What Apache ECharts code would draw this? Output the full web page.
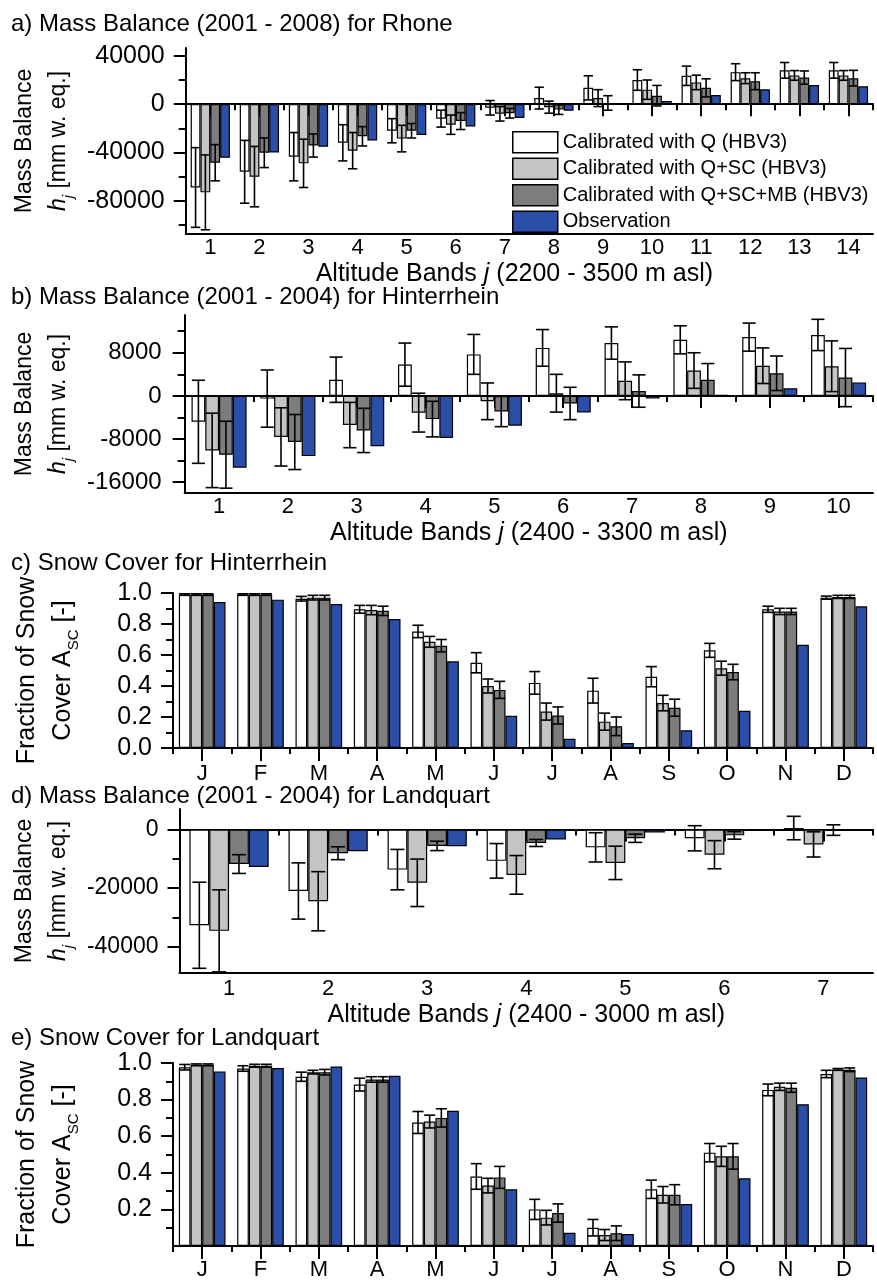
<!DOCTYPE html>
<html><head><meta charset="utf-8">
<script src="https://cdn.jsdelivr.net/npm/echarts@6/dist/echarts.min.js"></script>
<style>html,body{margin:0;padding:0;background:#fff}#c{width:877px;height:1281px}</style>
</head><body><div id="c"></div>
<script>
// ---------- DATA ----------
const seriesNames = ['Calibrated with Q (HBV3)', 'Calibrated with Q+SC (HBV3)', 'Calibrated with Q+SC+MB (HBV3)', 'Observation'];
const months = ['J','F','M','A','M','J','J','A','S','O','N','D'];

// a) Rhone mass balance
const rhoneBands = ['1','2','3','4','5','6','7','8','9','10','11','12','13','14'];
const rhoneQ        = [-69000,-56000,-43500,-32000,-22000,-12000,-3000,5000,13500,20000,23500,26500,28000,28000];
const rhoneQErr     = [33000,26000,20000,15000,10000,7000,6000,9000,10000,8500,8000,7000,6500,6500];
const rhoneQSC      = [-73000,-60000,-49000,-38500,-28500,-17000,-8000,-2500,5000,12000,18000,21500,23800,23800];
const rhoneQSCErr   = [31000,25000,20000,15000,11000,8000,6000,5000,7000,8000,6000,4500,4000,4000];
const rhoneQSCMB    = [-48500,-40200,-34200,-26600,-22000,-14000,-7500,-4500,1000,7000,13500,19000,22000,21500];
const rhoneQSCMBErr = [15000,12300,9600,8000,6000,7000,4000,4000,6000,8500,7500,7000,5500,6500];
const rhoneObs      = [-44400,-40000,-35300,-30100,-25500,-18500,-11500,-5500,800,2700,7600,12300,15800,14800];
const rhoneTicks = [-80000,-40000,0,40000];
const rhoneMinor = [-100000,-60000,-20000,20000];

// b) Hinterrhein mass balance
const hintBands = ['1','2','3','4','5','6','7','8','9','10'];
const hintQ        = [-4800,-500,3000,5800,7700,8900,9800,10400,10900,11300];
const hintQErr     = [7700,5300,4200,4000,3700,3400,3000,2600,2600,2900];
const hintQSC      = [-10100,-7600,-5400,-3100,-1000,500,2800,4700,5600,5500];
const hintQSCErr   = [6900,5400,4200,3600,3400,3500,3500,3300,3300,4700];
const hintQSCMB    = [-10900,-8550,-6400,-4300,-2900,-1400,900,3000,4200,3400];
const hintQSCMBErr = [6200,5100,4100,3300,2800,3000,3000,3000,3200,5400];
const hintObs      = [-13300,-11160,-9320,-7800,-5520,-3060,-500,200,1410,2500];
const hintTicks = [-16000,-8000,0,8000];
const hintMinor = [-12000,-4000,4000,12000];

// c) Hinterrhein snow cover
const hscQ        = [0.99,0.99,0.963,0.895,0.752,0.55,0.42,0.37,0.46,0.63,0.895,0.97];
const hscQErr     = [0.005,0.005,0.015,0.025,0.04,0.065,0.073,0.08,0.065,0.045,0.02,0.01];
const hscQSC      = [0.99,0.99,0.97,0.89,0.685,0.40,0.235,0.17,0.29,0.515,0.881,0.975];
const hscQSCErr   = [0.005,0.005,0.015,0.03,0.035,0.045,0.055,0.055,0.05,0.045,0.02,0.01];
const hscQSCMB    = [0.99,0.99,0.97,0.885,0.66,0.375,0.21,0.14,0.26,0.49,0.881,0.975];
const hscQSCMBErr = [0.005,0.005,0.015,0.03,0.04,0.055,0.055,0.06,0.055,0.05,0.02,0.01];
const hscObs      = [0.942,0.957,0.929,0.832,0.559,0.208,0.06,0.032,0.114,0.24,0.666,0.914];
const hscTicks = [0,0.2,0.4,0.6,0.8,1.0];
const hscMinor = [0.1,0.3,0.5,0.7,0.9];

// d) Landquart mass balance
const landBands = ['1','2','3','4','5','6','7'];
const lmbQ        = [-32700,-21000,-13700,-10700,-6100,-3000,500];
const lmbQErr     = [14700,9600,6900,5900,5000,4300,4000];
const lmbQSC      = [-34600,-24500,-18200,-15500,-11400,-8600,-5100];
const lmbQSCErr   = [14000,10100,8100,6600,5700,4800,4300];
const lmbQSCMB    = [-11800,-8100,-5600,-4600,-3000,-2000,-200];
const lmbQSCMBErr = [3200,2200,1600,1200,1400,1300,1800];
const lmbObs      = [-12800,-7400,-5700,-3400,-1000,-300,-300];
const landTicks = [-40000,-20000,0];
const landMinor = [-30000,-10000];

// e) Landquart snow cover
const lscQ        = [0.977,0.97,0.925,0.882,0.675,0.38,0.20,0.10,0.31,0.51,0.853,0.94];
const lscQErr     = [0.015,0.015,0.025,0.035,0.06,0.07,0.055,0.045,0.05,0.05,0.032,0.02];
const lscQSC      = [0.99,0.985,0.95,0.91,0.68,0.33,0.155,0.06,0.28,0.49,0.87,0.965];
const lscQSCErr   = [0.005,0.008,0.01,0.015,0.035,0.04,0.04,0.03,0.045,0.055,0.02,0.005];
const lscQSCMB    = [0.99,0.985,0.95,0.91,0.70,0.375,0.18,0.07,0.28,0.49,0.865,0.963];
const lscQSCMBErr = [0.005,0.008,0.015,0.015,0.05,0.06,0.05,0.04,0.055,0.07,0.025,0.01];
const lscObs      = [0.954,0.972,0.981,0.93,0.739,0.31,0.072,0.065,0.229,0.37,0.775,0.921];
const lscTicks = [0.2,0.4,0.6,0.8,1.0];
const lscMinor = [0.1,0.3,0.5,0.7,0.9];

// ---------- STYLE / BUILD ----------
const FONT = '"Liberation Sans", Arial, sans-serif';
const barColors = ['#ffffff', '#c4c4c4', '#7d7d7d', '#2b4ea8'];
const BAR_FRAC = 0.2;
const black = '#000';

const option = {
  animation: false,
  backgroundColor: '#fff',
  textStyle: { fontFamily: FONT, color: black },
  grid: [], xAxis: [], yAxis: [], series: [], graphic: [],
  legend: {
    data: seriesNames, orient: 'vertical', left: 512, top: 131,
    itemWidth: 45, itemHeight: 21, itemGap: 4, icon: 'rect', padding: 0,
    selectedMode: false,
    textStyle: { fontSize: 20, fontFamily: FONT, color: black },
    itemStyle: { borderColor: black, borderWidth: 1.5 }
  }
};

function makeErrRender(k) {
  return function (params, api) {
    const ci = api.value(0), v = api.value(1), e = api.value(2);
    const band = api.size([1, 0])[0];
    const bw = band * BAR_FRAC;
    const cx = api.coord([ci, v])[0] + (k - 1.5) * bw;
    const yt = api.coord([ci, v + e])[1];
    const yb = api.coord([ci, v - e])[1];
    const h = Math.min(bw * 0.95, 14) / 2;
    const st = { stroke: black, lineWidth: 1.6 };
    return { type: 'group', children: [
      { type: 'line', shape: { x1: cx, y1: yt, x2: cx, y2: yb }, style: st },
      { type: 'line', shape: { x1: cx - h, y1: yt, x2: cx + h, y2: yt }, style: st },
      { type: 'line', shape: { x1: cx - h, y1: yb, x2: cx + h, y2: yb }, style: st }
    ]};
  };
}

const lineSt = { color: black, width: 2 };

function addPanel(p) {
  const gi = option.grid.length;
  option.grid.push({ left: 173, width: 700, top: p.top, height: p.height });
  const yMain = option.yAxis.length;
  option.yAxis.push({
    type: 'value', gridIndex: gi, min: p.min, max: p.max, position: 'left',
    axisLine: { show: true, onZero: false, lineStyle: lineSt },
    axisTick: { show: true, customValues: p.ticks, length: 12, lineStyle: lineSt },
    axisLabel: { customValues: p.ticks, formatter: p.fmt, margin: p.yLabelMargin, fontSize: p.yLabelSize, color: black, fontFamily: FONT },
    splitLine: { show: false },
    name: p.yName, nameLocation: 'middle', nameRotate: 90, nameGap: p.yNameGap,
    nameTextStyle: { fontFamily: FONT, color: black, fontSize: p.yNameSize, lineHeight: p.yNameLH, rich: {
      n: { fontSize: p.yNameSize, lineHeight: p.yNameLH, fontFamily: FONT, color: black },
      i: { fontSize: p.yNameSize, lineHeight: p.yNameLH, fontStyle: 'italic', fontFamily: FONT, color: black },
      s: { fontSize: 15, lineHeight: 22, verticalAlign: 'bottom', fontStyle: p.subItalic ? 'italic' : 'normal', fontFamily: FONT, color: black }
    } }
  });
  option.yAxis.push({
    type: 'value', gridIndex: gi, min: p.min, max: p.max, position: 'left',
    axisLine: { show: false, onZero: false },
    axisTick: { show: true, customValues: p.minor, length: 7, lineStyle: lineSt },
    axisLabel: { show: false }, splitLine: { show: false }
  });
  const xName = {
    name: p.xName, nameLocation: 'middle', nameGap: p.xNameGap,
    nameTextStyle: { fontFamily: FONT, color: black, fontSize: p.xNameSize, lineHeight: 28, padding: p.xNamePad || 0, rich: {
      n: { fontSize: p.xNameSize, lineHeight: 28, fontFamily: FONT, color: black },
      i: { fontSize: p.xNameSize, lineHeight: 28, fontStyle: 'italic', fontFamily: FONT, color: black }
    } }
  };
  const xMain = option.xAxis.length;
  if (p.zeroAxis) {
    option.xAxis.push({
      type: 'category', gridIndex: gi, data: p.cats, position: 'bottom',
      axisLine: { show: true, onZero: true, onZeroAxisIndex: yMain, lineStyle: lineSt },
      axisTick: { show: true, alignWithLabel: false, interval: 0, length: 6, lineStyle: lineSt },
      axisLabel: { show: false }
    });
    option.xAxis.push({
      type: 'category', gridIndex: gi, data: p.cats, position: 'bottom',
      axisLine: { show: false, onZero: true, onZeroAxisIndex: yMain },
      axisTick: { show: true, alignWithLabel: true, interval: 0, length: 12, lineStyle: lineSt },
      axisLabel: { show: false }
    });
    option.xAxis.push(Object.assign({
      type: 'category', gridIndex: gi, data: p.cats, position: 'bottom',
      axisLine: { show: true, onZero: false, lineStyle: lineSt },
      axisTick: { show: false },
      axisLabel: { interval: 0, margin: p.xLabelMargin, fontSize: p.xLabelSize, color: black, fontFamily: FONT }
    }, xName));
  } else {
    option.xAxis.push({
      type: 'category', gridIndex: gi, data: p.cats, position: 'bottom',
      axisLine: { show: true, onZero: false, lineStyle: lineSt },
      axisTick: { show: true, alignWithLabel: false, interval: 0, length: 6, lineStyle: lineSt },
      axisLabel: { show: false }
    });
    option.xAxis.push({
      type: 'category', gridIndex: gi, data: p.cats, position: 'bottom',
      axisLine: { show: false, onZero: false },
      axisTick: { show: true, alignWithLabel: true, interval: 0, length: 13, lineStyle: lineSt },
      axisLabel: { interval: 0, margin: p.xLabelMargin, fontSize: p.xLabelSize, color: black, fontFamily: FONT }
    });
  }
  p.vals.forEach(function (vals, k) {
    option.series.push({
      type: 'bar', name: seriesNames[k], xAxisIndex: xMain, yAxisIndex: yMain,
      data: vals, barWidth: (BAR_FRAC * 100) + '%', barGap: '0%',
      itemStyle: { color: barColors[k], borderColor: black, borderWidth: 1.2 },
      emphasis: { disabled: true }, z: 2
    });
  });
  p.errs.forEach(function (errs, k) {
    option.series.push({
      type: 'custom', name: 'err' + gi + '_' + k, xAxisIndex: xMain, yAxisIndex: yMain,
      data: p.vals[k].map(function (v, i) { return [i, v, errs[i]]; }),
      encode: { x: 0, y: 1 }, renderItem: makeErrRender(k), silent: true, z: 4
    });
  });
  option.graphic.push({
    type: 'text', x: 11, y: p.titleY, silent: true,
    style: { text: p.title, font: '24px ' + FONT, fill: black, verticalAlign: 'middle' }
  });
}

const intFmt = function (v) { return String(Math.round(v)); };
const decFmt = function (v) { return v.toFixed(1); };
const mbName = '{n|Mass Balance}\n{i|h}{s|j}{n| [mm w. eq.]}';
const scName = '{n|Fraction of Snow}\n{n|Cover A}{s|SC}{n| [-]}';

addPanel({ title: 'a) Mass Balance (2001 - 2008) for Rhone', titleY: 24,
  cats: rhoneBands, vals: [rhoneQ, rhoneQSC, rhoneQSCMB, rhoneObs], errs: [rhoneQErr, rhoneQSCErr, rhoneQSCMBErr],
  top: 48, height: 186, min: -107500, max: 46500, ticks: rhoneTicks, minor: rhoneMinor, fmt: intFmt,
  yLabelSize: 25, yLabelMargin: 21, yName: mbName, yNameGap: 94, yNameSize: 23, yNameLH: 34, subItalic: true,
  zeroAxis: true, xLabelSize: 22, xLabelMargin: 3,
  xName: '{n|Altitude Bands }{i|j}{n| (2200 - 3500 m asl)}', xNameGap: 22, xNameSize: 25, xNamePad: [0, 30, 0, 0] });

addPanel({ title: 'b) Mass Balance (2001 - 2004) for Hinterrhein', titleY: 297,
  cats: hintBands, vals: [hintQ, hintQSC, hintQSCMB, hintObs], errs: [hintQErr, hintQSCErr, hintQSCMBErr],
  top: 315, height: 178, min: -18000, max: 15000, ticks: hintTicks, minor: hintMinor, fmt: intFmt,
  yLabelSize: 24, yLabelMargin: 23, yName: mbName, yNameGap: 94, yNameSize: 23, yNameLH: 34, subItalic: true,
  zeroAxis: true, xLabelSize: 22, xLabelMargin: 3,
  xName: '{n|Altitude Bands }{i|j}{n| (2400 - 3300 m asl)}', xNameGap: 20, xNameSize: 25 });

addPanel({ title: 'c) Snow Cover for Hinterrhein', titleY: 563,
  cats: months, vals: [hscQ, hscQSC, hscQSCMB, hscObs], errs: [hscQErr, hscQSCErr, hscQSCMBErr],
  top: 593, height: 155, min: 0, max: 1, ticks: hscTicks, minor: hscMinor, fmt: decFmt,
  yLabelSize: 25, yLabelMargin: 21, yName: scName, yNameGap: 92, yNameSize: 25, yNameLH: 36, subItalic: false,
  zeroAxis: false, xLabelSize: 22, xLabelMargin: 15 });

addPanel({ title: 'd) Mass Balance (2001 - 2004) for Landquart', titleY: 796,
  cats: landBands, vals: [lmbQ, lmbQSC, lmbQSCMB, lmbObs], errs: [lmbQErr, lmbQSCErr, lmbQSCMBErr],
  top: 809, height: 164, min: -49000, max: 7000, ticks: landTicks, minor: landMinor, fmt: intFmt,
  yLabelSize: 23, yLabelMargin: 21, yName: mbName, yNameGap: 94, yNameSize: 23, yNameLH: 34, subItalic: true,
  zeroAxis: true, xLabelSize: 22, xLabelMargin: 5,
  xName: '{n|Altitude Bands }{i|j}{n| (2400 - 3000 m asl)}', xNameGap: 26, xNameSize: 25 });

addPanel({ title: 'e) Snow Cover for Landquart', titleY: 1038,
  cats: months, vals: [lscQ, lscQSC, lscQSCMB, lscObs], errs: [lscQErr, lscQSCErr, lscQSCMBErr],
  top: 1063, height: 183, min: 0, max: 1, ticks: lscTicks, minor: lscMinor, fmt: decFmt,
  yLabelSize: 25, yLabelMargin: 21, yName: scName, yNameGap: 92, yNameSize: 25, yNameLH: 36, subItalic: false,
  zeroAxis: false, xLabelSize: 22, xLabelMargin: 13 });

const chart = echarts.init(document.getElementById('c'), null, { renderer: 'canvas' });
chart.setOption(option);
</script></body></html>
